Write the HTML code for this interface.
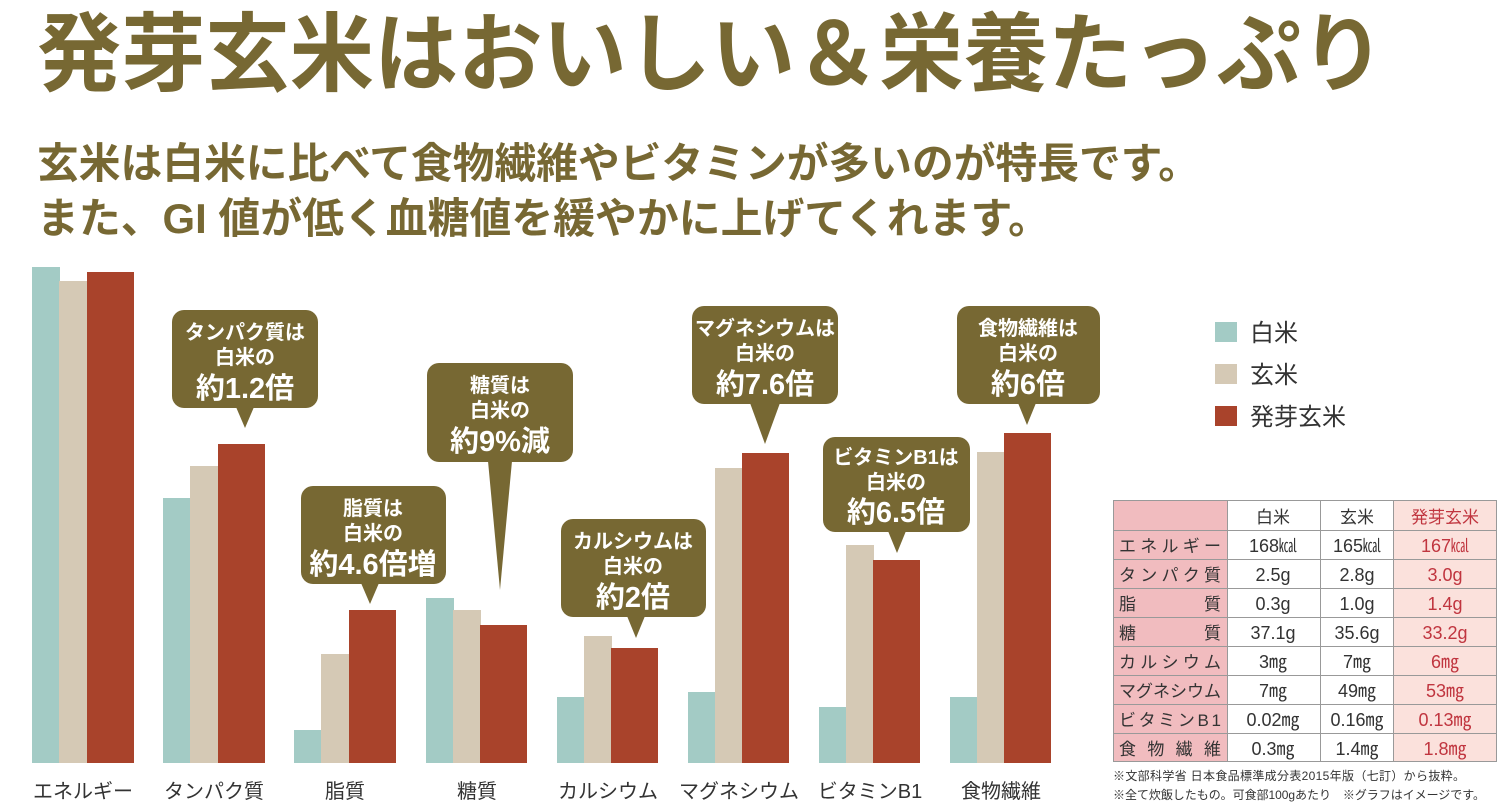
<!DOCTYPE html>
<html><head><meta charset="utf-8"><style>
html,body{margin:0;padding:0;background:#fff;}
svg{display:block}
text{font-family:"Liberation Sans","Noto Sans CJK JP",sans-serif;}
</style></head><body>
<svg width="1500" height="804" viewBox="0 0 1500 804" xmlns="http://www.w3.org/2000/svg">
<g fill="#776833" font-weight="bold">
<text x="37" y="84" font-size="86" textLength="1348" lengthAdjust="spacingAndGlyphs">発芽玄米はおいしい＆栄養たっぷり</text>
<text x="37" y="178" font-size="42" textLength="1163" lengthAdjust="spacingAndGlyphs">玄米は白米に比べて食物繊維やビタミンが多いのが特長です。</text>
<text x="37" y="233" font-size="42" textLength="1013" lengthAdjust="spacingAndGlyphs">また、GI 値が低く血糖値を緩やかに上げてくれます。</text>
</g>
<g>
<rect x="32" y="267" width="28" height="496" fill="#a3cbc5"/><rect x="59" y="281" width="29" height="482" fill="#d5c9b5"/><rect x="87" y="272" width="47" height="491" fill="#a9432b"/>
<rect x="163" y="498" width="28" height="265" fill="#a3cbc5"/><rect x="190" y="466" width="29" height="297" fill="#d5c9b5"/><rect x="218" y="444" width="47" height="319" fill="#a9432b"/>
<rect x="294" y="730" width="28" height="33" fill="#a3cbc5"/><rect x="321" y="654" width="29" height="109" fill="#d5c9b5"/><rect x="349" y="610" width="47" height="153" fill="#a9432b"/>
<rect x="426" y="598" width="28" height="165" fill="#a3cbc5"/><rect x="453" y="610" width="28" height="153" fill="#d5c9b5"/><rect x="480" y="625" width="47" height="138" fill="#a9432b"/>
<rect x="557" y="697" width="28" height="66" fill="#a3cbc5"/><rect x="584" y="636" width="28" height="127" fill="#d5c9b5"/><rect x="611" y="648" width="47" height="115" fill="#a9432b"/>
<rect x="688" y="692" width="28" height="71" fill="#a3cbc5"/><rect x="715" y="468" width="28" height="295" fill="#d5c9b5"/><rect x="742" y="453" width="47" height="310" fill="#a9432b"/>
<rect x="819" y="707" width="28" height="56" fill="#a3cbc5"/><rect x="846" y="545" width="28" height="218" fill="#d5c9b5"/><rect x="873" y="560" width="47" height="203" fill="#a9432b"/>
<rect x="950" y="697" width="28" height="66" fill="#a3cbc5"/><rect x="977" y="452" width="28" height="311" fill="#d5c9b5"/><rect x="1004" y="433" width="47" height="330" fill="#a9432b"/>
</g>
<g fill="#333" font-size="20" text-anchor="middle">
<text x="83" y="798">エネルギー</text><text x="214" y="798">タンパク質</text><text x="345" y="798">脂質</text><text x="477" y="798">糖質</text>
<text x="608" y="798">カルシウム</text><text x="739" y="798">マグネシウム</text><text x="870" y="798">ビタミンB1</text><text x="1001" y="798">食物繊維</text>
</g>
<g fill="#776833">
<rect x="172" y="310" width="146" height="98" rx="12"/><polygon points="236,407 254,407 245,428"/>
<rect x="301" y="486" width="145" height="98" rx="12"/><polygon points="361,583 379,583 370,604"/>
<rect x="427" y="363" width="146" height="99" rx="12"/><polygon points="488,461 512,461 500,590"/>
<rect x="561" y="519" width="145" height="98" rx="12"/><polygon points="627,616 645,616 636,638"/>
<rect x="692" y="306" width="146" height="98" rx="12"/><polygon points="750,403 780,403 765,444"/>
<rect x="823" y="437" width="147" height="95" rx="12"/><polygon points="888,531 906,531 897,553"/>
<rect x="957" y="306" width="143" height="98" rx="12"/><polygon points="1018,403 1036,403 1027,425"/>
</g>
<g fill="#fff" font-weight="bold" text-anchor="middle">
<g font-size="20"><text x="245" y="339">タンパク質は</text><text x="245" y="364">白米の</text></g><text x="245" y="398" font-size="29">約1.2倍</text>
<g font-size="20"><text x="373" y="515">脂質は</text><text x="373" y="540">白米の</text></g><text x="373" y="574" font-size="29">約4.6倍増</text>
<g font-size="20"><text x="500" y="392">糖質は</text><text x="500" y="417">白米の</text></g><text x="500" y="451" font-size="29">約9%減</text>
<g font-size="20"><text x="633" y="548">カルシウムは</text><text x="633" y="573">白米の</text></g><text x="633" y="607" font-size="29">約2倍</text>
<g font-size="20"><text x="765" y="335">マグネシウムは</text><text x="765" y="360">白米の</text></g><text x="765" y="394" font-size="29">約7.6倍</text>
<g font-size="20"><text x="896" y="464">ビタミンB1は</text><text x="896" y="489">白米の</text></g><text x="896" y="522" font-size="29">約6.5倍</text>
<g font-size="20"><text x="1028" y="335">食物繊維は</text><text x="1028" y="360">白米の</text></g><text x="1028" y="394" font-size="29">約6倍</text>
</g>
<rect x="1215" y="322" width="22" height="20" fill="#a3cbc5"/><rect x="1215" y="364" width="22" height="20" fill="#d5c9b5"/><rect x="1215" y="406" width="22" height="20" fill="#a9432b"/>
<g fill="#333" font-size="24"><text x="1250" y="341">白米</text><text x="1250" y="383">玄米</text><text x="1250" y="425">発芽玄米</text></g>
<rect x="1113" y="500" width="114" height="262" fill="#f1bcbf"/>
<rect x="1393" y="500" width="104" height="262" fill="#fbe1dc"/>
<g stroke="#999" stroke-width="1" fill="none">
<rect x="1113.5" y="500.5" width="383" height="261"/>
<line x1="1227.5" y1="500" x2="1227.5" y2="762"/><line x1="1320.5" y1="500" x2="1320.5" y2="762"/><line x1="1393.5" y1="500" x2="1393.5" y2="762"/>
<line x1="1113" y1="530.5" x2="1497" y2="530.5"/><line x1="1113" y1="559.5" x2="1497" y2="559.5"/><line x1="1113" y1="588.5" x2="1497" y2="588.5"/>
<line x1="1113" y1="617.5" x2="1497" y2="617.5"/><line x1="1113" y1="646.5" x2="1497" y2="646.5"/><line x1="1113" y1="675.5" x2="1497" y2="675.5"/>
<line x1="1113" y1="704.5" x2="1497" y2="704.5"/><line x1="1113" y1="733.5" x2="1497" y2="733.5"/>
</g>
<g font-size="17" fill="#333">
<text x="1119" y="552" textLength="102">エネルギー</text><text x="1119" y="581" textLength="102">タンパク質</text>
<text x="1119" y="610">脂</text><text x="1204" y="610">質</text><text x="1119" y="639">糖</text><text x="1204" y="639">質</text>
<text x="1119" y="668" textLength="102">カルシウム</text><text x="1119" y="697" textLength="102">マグネシウム</text>
<text x="1119" y="726" textLength="102">ビタミンB1</text><text x="1119" y="755" textLength="102">食 物 繊 維</text>
</g>
<g font-size="18" fill="#333" text-anchor="middle">
<text x="1273" y="523" font-size="17">白米</text><text x="1357" y="523" font-size="17">玄米</text>
<text x="1273" y="552">168㎉</text><text x="1357" y="552">165㎉</text>
<text x="1273" y="581">2.5g</text><text x="1357" y="581">2.8g</text>
<text x="1273" y="610">0.3g</text><text x="1357" y="610">1.0g</text>
<text x="1273" y="639">37.1g</text><text x="1357" y="639">35.6g</text>
<text x="1273" y="668">3㎎</text><text x="1357" y="668">7㎎</text>
<text x="1273" y="697">7㎎</text><text x="1357" y="697">49㎎</text>
<text x="1273" y="726">0.02㎎</text><text x="1357" y="726">0.16㎎</text>
<text x="1273" y="755">0.3㎎</text><text x="1357" y="755">1.4㎎</text>
</g>
<g font-size="18" fill="#c0353f" text-anchor="middle">
<text x="1445" y="523" font-size="17">発芽玄米</text><text x="1445" y="552">167㎉</text><text x="1445" y="581">3.0g</text>
<text x="1445" y="610">1.4g</text><text x="1445" y="639">33.2g</text><text x="1445" y="668">6㎎</text>
<text x="1445" y="697">53㎎</text><text x="1445" y="726">0.13㎎</text><text x="1445" y="755">1.8㎎</text>
</g>
<g font-size="12" fill="#333">
<text x="1113" y="780" textLength="352">※文部科学省 日本食品標準成分表2015年版（七訂）から抜粋。</text>
<text x="1113" y="799" textLength="372">※全て炊飯したもの。可食部100gあたり　※グラフはイメージです。</text>
</g>
</svg>
</body></html>
